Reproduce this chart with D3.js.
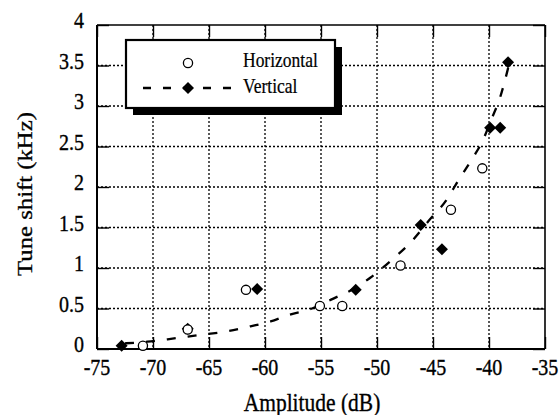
<!DOCTYPE html>
<html>
<head>
<meta charset="utf-8">
<script src="https://cdn.jsdelivr.net/npm/d3@7"></script>
<style>
  body { margin: 0; background: #fff; }
  svg { display: block; }
  text { font-family: "Liberation Serif", "Times New Roman", serif; fill: #000; }
</style>
</head>
<body>
<svg id="chart" width="559" height="415"></svg>
<script>
// ---- data ----
const xTicks = [-75, -70, -65, -60, -55, -50, -45, -40, -35];
const xTickLabels = ["-75", "-70", "-65", "-60", "-55", "-50", "-45", "-40", "-35"];
const yTicks = [0, 0.5, 1, 1.5, 2, 2.5, 3, 3.5, 4];
const yTickLabels = ["0", "0.5", "1", "1.5", "2", "2.5", "3", "3.5", "4"];

const horizX = [-70.9, -66.9, -61.7, -55.1, -53.1, -47.9, -43.4, -40.6];
const horizY = [0.04, 0.24, 0.73, 0.53, 0.53, 1.03, 1.72, 2.23];

const vertX = [-72.8, -66.9, -60.7, -51.9, -46.1, -44.2, -39.9, -39.0, -38.3];
const vertY = [0.04, 0.25, 0.74, 0.73, 1.53, 1.23, 2.73, 2.73, 3.54];

const fitX = [-72.5, -70.5, -68.7, -66.0, -63.3, -61.3, -59.5, -57.9, -55.8, -54.1, -52.0, -50.6, -48.6, -46.9, -45.4, -43.8, -42.7, -41.4, -40.6, -39.8, -39.0, -38.2];
const fitY = [0.07, 0.09, 0.12, 0.17, 0.22, 0.28, 0.34, 0.42, 0.50, 0.61, 0.75, 0.88, 1.11, 1.33, 1.58, 1.84, 2.09, 2.37, 2.56, 2.83, 3.11, 3.52];

const seriesNames = ["Horizontal", "Vertical"];
const xTitle = "Amplitude (dB)";
const yTitle = "Tune shift (kHz)";

// ---- layout ----
const svg = d3.select("#chart");
const L = 97, R = 545, T = 25, B = 349;
const x = d3.scaleLinear().domain([-75, -35]).range([L, R]);
const y = d3.scaleLinear().domain([0, 4]).range([B, T]);
const tickLen = 12;
const vStretch = 1.15;

// grid (dotted)
const grid = svg.append("g");
grid.selectAll("line.gx").data(xTicks.slice(1, -1)).join("line")
  .attr("x1", d => x(d)).attr("x2", d => x(d)).attr("y1", T).attr("y2", B)
  .attr("stroke", "#000").attr("stroke-width", 1.3).attr("stroke-dasharray", "2,2");
grid.selectAll("line.gy").data(yTicks.slice(1, -1)).join("line")
  .attr("x1", L).attr("x2", R).attr("y1", d => y(d)).attr("y2", d => y(d))
  .attr("stroke", "#000").attr("stroke-width", 1.3).attr("stroke-dasharray", "2,2");

// axes with inward ticks (labels drawn separately)
const gxB = svg.append("g").attr("transform", `translate(0,${B})`)
  .call(d3.axisBottom(x).tickValues(xTicks).tickSize(-tickLen).tickFormat(""));
const gxT = svg.append("g").attr("transform", `translate(0,${T})`)
  .call(d3.axisTop(x).tickValues(xTicks).tickSize(-tickLen).tickFormat(""));
const gyL = svg.append("g").attr("transform", `translate(${L},0)`)
  .call(d3.axisLeft(y).tickValues(yTicks).tickSize(-tickLen).tickFormat(""));
const gyR = svg.append("g").attr("transform", `translate(${R},0)`)
  .call(d3.axisRight(y).tickValues(yTicks).tickSize(-tickLen).tickFormat(""));
[gxB, gxT, gyL, gyR].forEach(g => {
  g.select(".domain").remove();
  g.selectAll(".tick text").remove();
  g.selectAll(".tick line").attr("stroke", "#000").attr("stroke-width", 1.4);
});

// tick labels
svg.append("g").selectAll("text").data(xTicks).join("text")
  .attr("transform", d => `translate(${x(d)},375) scale(1,${vStretch})`)
  .attr("text-anchor", "middle").attr("font-size", 20)
  .attr("stroke", "#000").attr("stroke-width", 0.3)
  .text((d, i) => xTickLabels[i]);
svg.append("g").selectAll("text").data(yTicks).join("text")
  .attr("transform", d => `translate(84,${y(d) + 3}) scale(1,${vStretch})`)
  .attr("text-anchor", "end").attr("font-size", 20)
  .attr("stroke", "#000").attr("stroke-width", 0.3)
  .text((d, i) => yTickLabels[i]);

// frame
svg.append("line").attr("x1", L).attr("x2", R).attr("y1", T).attr("y2", T).attr("stroke", "#000").attr("stroke-width", 1.6);
svg.append("line").attr("x1", R).attr("x2", R).attr("y1", T).attr("y2", B).attr("stroke", "#000").attr("stroke-width", 1.6);
svg.append("line").attr("x1", L).attr("x2", R).attr("y1", B).attr("y2", B).attr("stroke", "#000").attr("stroke-width", 2);
svg.append("line").attr("x1", L).attr("x2", L).attr("y1", T).attr("y2", B).attr("stroke", "#000").attr("stroke-width", 2);

// fit line
const fitData = fitX.map((v, i) => [v, fitY[i]]);
svg.append("path").datum(fitData)
  .attr("d", d3.line().x(d => x(d[0])).y(d => y(d[1])).curve(d3.curveMonotoneX))
  .attr("fill", "none").attr("stroke", "#000").attr("stroke-width", 2.3).attr("stroke-dasharray", "9,12");

// markers
const squareDiamond = {
  draw(ctx, size) {
    const r = Math.sqrt(size / 2);
    ctx.moveTo(0, -r); ctx.lineTo(r, 0); ctx.lineTo(0, r); ctx.lineTo(-r, 0); ctx.closePath();
  }
};
const diamond = d3.symbol().type(squareDiamond).size(72);
svg.append("g").selectAll("path").data(vertX.map((v, i) => [v, vertY[i]])).join("path")
  .attr("d", diamond)
  .attr("transform", d => `translate(${x(d[0])},${y(d[1])})`)
  .attr("fill", "#000");
svg.append("g").selectAll("circle").data(horizX.map((v, i) => [v, horizY[i]])).join("circle")
  .attr("cx", d => x(d[0])).attr("cy", d => y(d[1])).attr("r", 4.6)
  .attr("fill", "#fff").attr("stroke", "#000").attr("stroke-width", 1.3);

// axis titles
svg.append("text").attr("transform", `translate(312,411) scale(1,${vStretch})`).attr("text-anchor", "middle")
  .attr("font-size", 21.5).attr("stroke", "#000").attr("stroke-width", 0.3).text(xTitle);
svg.append("text").attr("transform", `translate(32,194) scale(1,${vStretch}) rotate(-90)`).attr("text-anchor", "middle")
  .attr("font-size", 21.5).attr("stroke", "#000").attr("stroke-width", 0.3).text(yTitle);

// legend
const lg = svg.append("g");
const bx = 126, by = 40, bw = 209, bh = 68, sh = 7;
lg.append("rect").attr("x", bx + sh).attr("y", by + sh).attr("width", bw).attr("height", bh).attr("fill", "#000");
lg.append("rect").attr("x", bx).attr("y", by).attr("width", bw).attr("height", bh)
  .attr("fill", "#fff").attr("stroke", "#000").attr("stroke-width", 2.2);
lg.append("circle").attr("cx", 188).attr("cy", 63).attr("r", 4.6)
  .attr("fill", "#fff").attr("stroke", "#000").attr("stroke-width", 1.3);
lg.append("line").attr("x1", 143).attr("x2", 234).attr("y1", 88).attr("y2", 88)
  .attr("stroke", "#000").attr("stroke-width", 2.3).attr("stroke-dasharray", "8,12");
lg.append("path").attr("d", diamond).attr("transform", "translate(188,88)").attr("fill", "#000");
lg.append("text").attr("transform", `translate(243,67) scale(1,${vStretch})`).attr("font-size", 17.5)
  .attr("stroke", "#000").attr("stroke-width", 0.2).text(seriesNames[0]);
lg.append("text").attr("transform", `translate(243,93) scale(1,${vStretch})`).attr("font-size", 17.5)
  .attr("stroke", "#000").attr("stroke-width", 0.2).text(seriesNames[1]);
</script>
</body>
</html>
